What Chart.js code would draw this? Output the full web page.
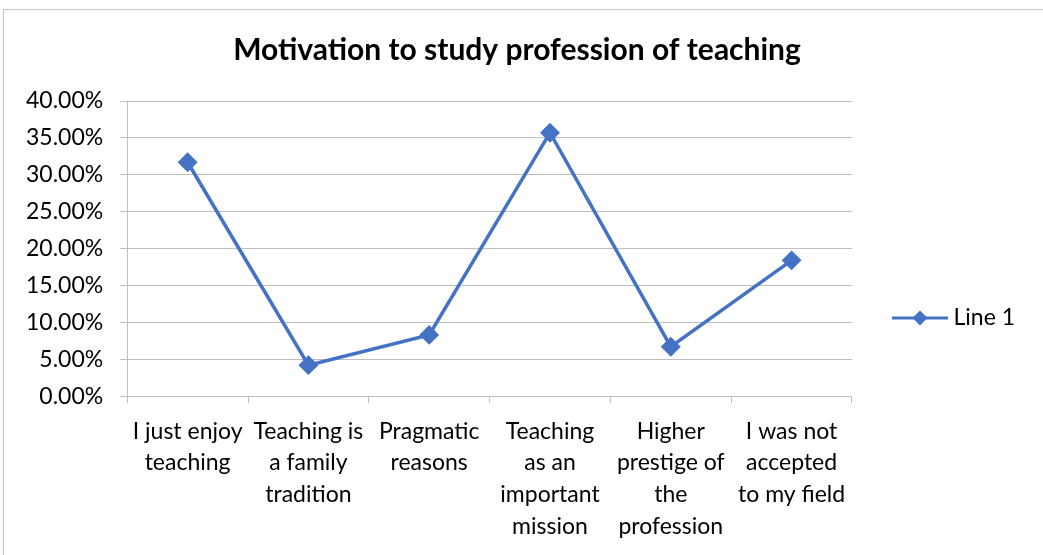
<!DOCTYPE html>
<html>
<head>
<meta charset="utf-8">
<script src="https://cdn.jsdelivr.net/npm/chart.js@4"></script>
<style>
  html, body { margin: 0; padding: 0; background: #fff; overflow: hidden; }
  #wrap { position: absolute; left: 0; top: 0; width: 1043px; height: 555px; }
  #frame { position: absolute; left: 3px; top: 9px; width: 1100px; height: 600px; border: 1px solid #c4c4c4; }
</style>
</head>
<body>
<div id="frame"></div>
<div id="wrap"><canvas id="myChart" width="1043" height="555"></canvas></div>
<script>
var categories = [
  ["I just enjoy", "teaching"],
  ["Teaching is", "a family", "tradition"],
  ["Pragmatic", "reasons"],
  ["Teaching", "as an", "important", "mission"],
  ["Higher", "prestige of", "the", "profession"],
  ["I was not", "accepted", "to my field"]
];
var line1 = [0.317, 0.042, 0.083, 0.357, 0.067, 0.184];
var yTicks = [0, 0.05, 0.1, 0.15, 0.2, 0.25, 0.3, 0.35, 0.4];

var blue = "#4472C4";
var fontFam = "Lato, 'Open Sans', sans-serif";

// legend marker: short line with a diamond in the middle
var mark = document.createElement("canvas");
mark.width = 56; mark.height = 18;
var mc = mark.getContext("2d");
mc.strokeStyle = blue; mc.lineWidth = 3;
mc.beginPath(); mc.moveTo(0, 9); mc.lineTo(56, 9); mc.stroke();
mc.fillStyle = blue;
mc.beginPath(); mc.moveTo(28, 1.5); mc.lineTo(35.5, 9); mc.lineTo(28, 16.5); mc.lineTo(20.5, 9); mc.closePath(); mc.fill();

var ctx1 = document.getElementById("myChart").getContext("2d");
var myChart1 = new Chart(ctx1, {
  type: "line",
  data: {
    labels: categories,
    datasets: [
      {
        label: "Line 1",
        data: line1,
        borderColor: blue,
        backgroundColor: blue,
        borderWidth: 3.5,
        pointStyle: "rectRot",
        pointRadius: 7.5,
        pointHoverRadius: 7.5,
        tension: 0,
        fill: false,
      },
    ],
  },
  options: {
    responsive: false,
    animation: false,
    layout: { padding: { left: 9, right: 18, bottom: 0, top: 0 } },
    plugins: {
      title: {
        display: true,
        text: "Motivation to study profession of teaching",
        color: "#000",
        font: { family: fontFam, size: 30, weight: "bold" },
        padding: { top: 32, bottom: 33 },
      },
      legend: {
        position: "right",
        title: { display: true, text: " ", font: { size: 10 }, padding: { top: 34.5, bottom: 34.5 } },
        labels: {
          usePointStyle: true,
          pointStyle: mark,
          pointStyleWidth: 44,
          color: "#000",
          font: { family: fontFam, size: 23 },
          padding: 46,
        },
      },
      tooltip: { enabled: false },
    },
    scales: {
      x: {
        offset: true,
        grid: { display: true, drawOnChartArea: false, drawTicks: true, tickLength: 7, color: "#bfbfbf", offset: true },
        border: { color: "#bfbfbf" },
        ticks: { color: "#000", font: { family: fontFam, size: 23, lineHeight: 1.39 }, maxRotation: 0, autoSkip: false, padding: 12 },
      },
      y: {
        min: 0,
        max: 0.4,
        afterBuildTicks: function (axis) { axis.ticks = yTicks.map(function (v) { return { value: v }; }); },
        grid: { color: "#bfbfbf", tickLength: 7 },
        border: { color: "#bfbfbf" },
        ticks: {
          color: "#000",
          font: { family: fontFam, size: 23 },
          padding: 17,
          callback: function (v) { return (v * 100).toFixed(2) + "%"; },
        },
      },
    },
  },
});
</script>
</body>
</html>
